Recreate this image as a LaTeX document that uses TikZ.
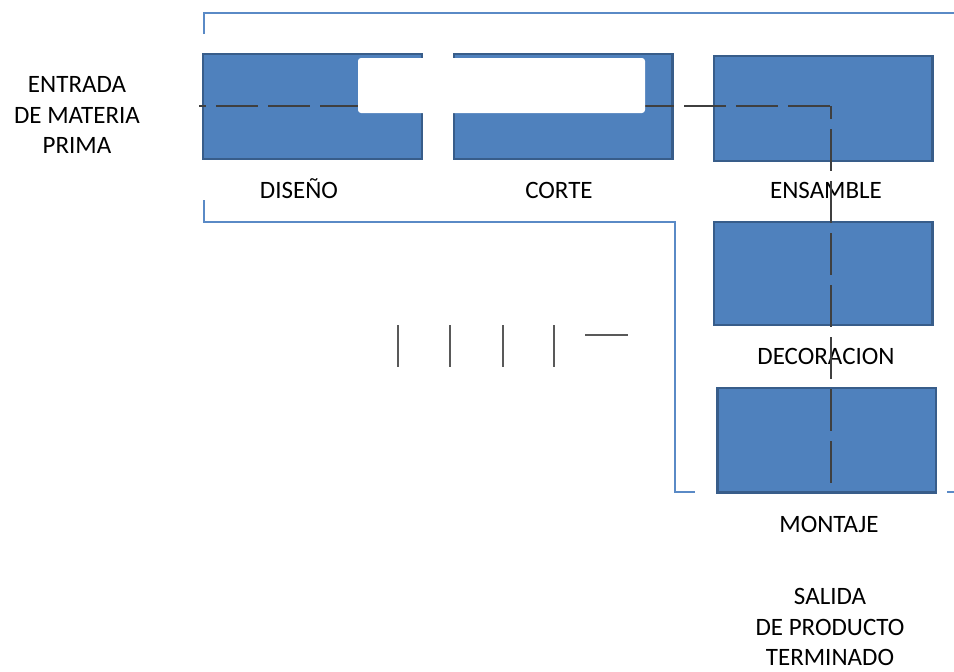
\documentclass[tikz,border=0pt]{standalone}
\usepackage{fontspec}
\setmainfont{Carlito}
\definecolor{cajafill}{HTML}{4F81BD}
\definecolor{cajaline}{HTML}{385D8A}
\definecolor{marco}{HTML}{5A8AC6}
\definecolor{guialine}{HTML}{3F3F3F}
\definecolor{marcaline}{HTML}{595959}
\tikzset{
  caja/.style={draw=cajaline,fill=cajafill,line width=1.2pt,inner sep=0pt,outer sep=0pt,
    minimum width=109.3pt,minimum height=52.3pt},
  tapa/.style={fill=white,rounded corners=1.5pt,inner sep=0pt,
    minimum width=143.5pt,minimum height=27.5pt},
  etiqueta/.style={font=\fontsize{12.5}{15.3}\selectfont,text=black,inner sep=0pt,align=center},
  contorno/.style={draw=marco,line width=0.8pt},
  guia/.style={draw=guialine,line width=0.75pt,dash pattern=on 21pt off 5pt},
  marca/.style={draw=marcaline,line width=0.8pt}
}
\begin{document}
\begin{tikzpicture}[x=0.5pt,y=-0.5pt]
\useasboundingbox (0,0) rectangle (954,671);
% marco azul
\draw[contorno] (204,34) -- (204,13) -- (954,13);
\draw[contorno] (204,200) -- (204,222) -- (675,222) -- (675,492) -- (695,492);
\draw[contorno] (947,492) -- (954,492);
% cajas
\node[caja] (diseno) at (312.5,106.5) {};
\node[caja] (corte) at (563,106.5) {};
\node[caja] (ensamble) at (823,108.5) {};
\node[caja,minimum height=51.3pt] (decoracion) at (823,273.5) {};
\node[caja] (montaje) at (826.7,440) {};
% textos
\node[etiqueta,anchor=base] (tdiseno) at (299,198) {DISEÑO};
\node[etiqueta,anchor=base] (tcorte) at (559,198) {CORTE};
\node[etiqueta,anchor=base] (tensamble) at (826,198) {ENSAMBLE};
\node[etiqueta,anchor=base] (tdecoracion) at (826,364) {DECORACION};
\node[etiqueta,anchor=base] (tmontaje) at (829,532) {MONTAJE};
\node[etiqueta] (entrada) at (77,115) {ENTRADA\\DE MATERIA\\PRIMA};
\node[etiqueta] (salida) at (830,627) {SALIDA\\DE PRODUCTO\\TERMINADO};
% recorrido
\coordinate (inicio) at (199,106);
\coordinate (giro) at (831,106);
\coordinate (fin) at (831,483);
\draw[guia,dash phase=17.5pt] (inicio) -- (giro);
\draw[guia,dash phase=14.5pt] (giro) -- (fin);
\node[tapa] (blanco) at (501.5,85.5) {};
% marcas sueltas
\foreach \mx in {398,450,503,554}
  \draw[marca] (\mx,325) -- (\mx,367);
\draw[marca] (585,335) -- (628,335);
\end{tikzpicture}
\end{document}
